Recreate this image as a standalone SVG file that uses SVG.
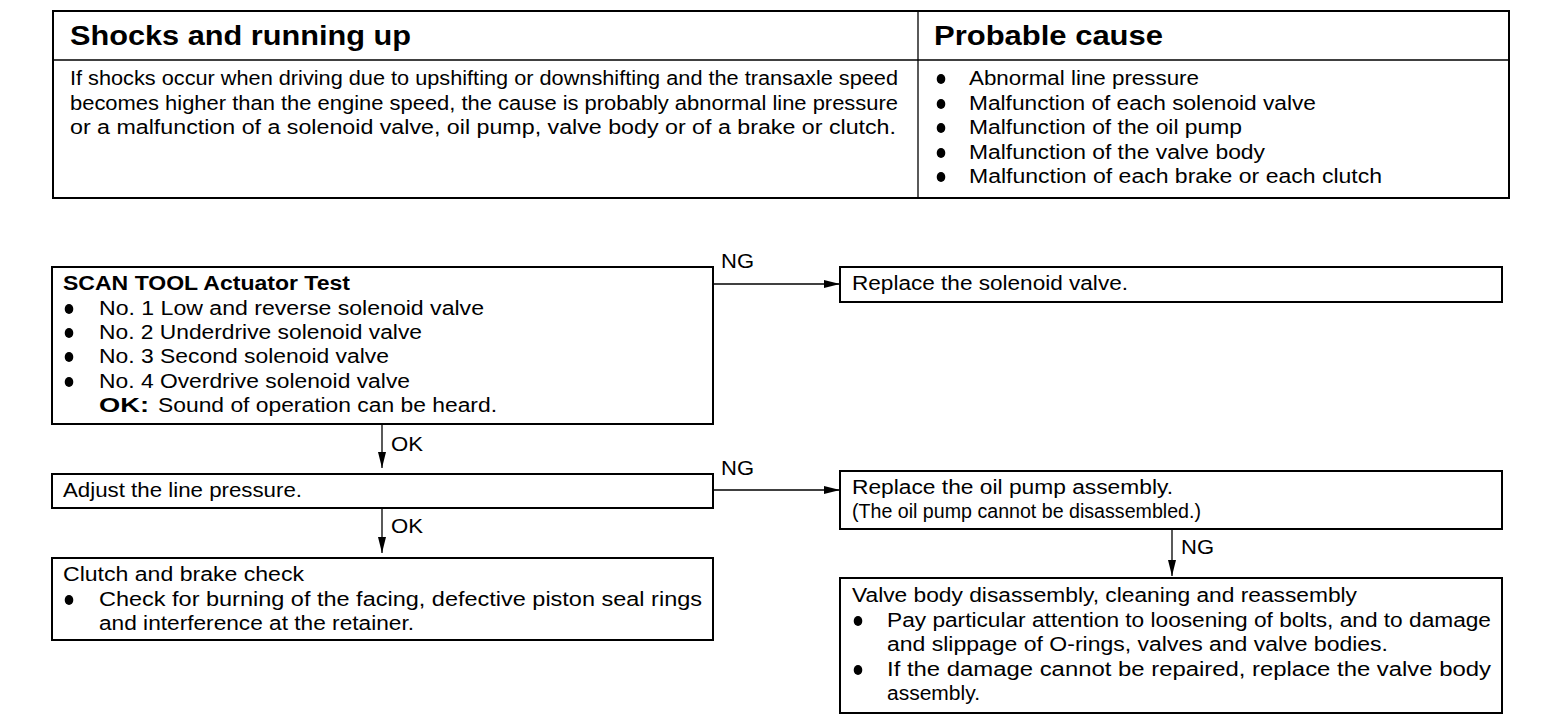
<svg xmlns="http://www.w3.org/2000/svg" width="1568" height="728" viewBox="0 0 1568 728">
<style>
text{font-family:"Liberation Sans",Arial,sans-serif;fill:#000}
.h{font-size:27px;font-weight:bold}
.t{font-size:19.5px}
.f{font-size:19.5px}
.b{font-weight:bold}
.box{fill:#fff;stroke:#000;stroke-width:2}
.ln{fill:none;stroke:#000;stroke-width:1.3}
.dot{fill:#000}
</style>
<defs>
<marker id="ah" viewBox="0 0 16 8" refX="16" refY="4" markerWidth="16" markerHeight="8" markerUnits="userSpaceOnUse" orient="auto">
<path d="M0,0 L16,4 L0,8 Z" fill="#000"/>
</marker>
</defs>
<rect width="1568" height="728" fill="#fff"/>

<g id="table">
<rect x="53" y="11" width="1456" height="187" fill="none" stroke="#000" stroke-width="2"/>
<line x1="53" y1="60" x2="1509" y2="60" stroke="#000" stroke-width="1.3"/>
<line x1="918" y1="11" x2="918" y2="198" stroke="#000" stroke-width="1.3"/>
<text class="h" x="70" y="45" textLength="341" lengthAdjust="spacingAndGlyphs">Shocks and running up</text>
<text class="h" x="934" y="45" textLength="229" lengthAdjust="spacingAndGlyphs">Probable cause</text>
<text class="t" x="70" y="85" textLength="828" lengthAdjust="spacingAndGlyphs">If shocks occur when driving due to upshifting or downshifting and the transaxle speed</text>
<text class="t" x="70" y="110" textLength="828" lengthAdjust="spacingAndGlyphs">becomes higher than the engine speed, the cause is probably abnormal line pressure</text>
<text class="t" x="70" y="134" textLength="826" lengthAdjust="spacingAndGlyphs">or a malfunction of a solenoid valve, oil pump, valve body or of a brake or clutch.</text>
<ellipse class="dot" cx="941" cy="79" rx="4.3" ry="5"/>
<ellipse class="dot" cx="941" cy="104" rx="4.3" ry="5"/>
<ellipse class="dot" cx="941" cy="128" rx="4.3" ry="5"/>
<ellipse class="dot" cx="941" cy="153" rx="4.3" ry="5"/>
<ellipse class="dot" cx="941" cy="177" rx="4.3" ry="5"/>
<text class="t" x="969" y="85" textLength="230" lengthAdjust="spacingAndGlyphs">Abnormal line pressure</text>
<text class="t" x="969" y="110" textLength="347" lengthAdjust="spacingAndGlyphs">Malfunction of each solenoid valve</text>
<text class="t" x="969" y="134" textLength="273" lengthAdjust="spacingAndGlyphs">Malfunction of the oil pump</text>
<text class="t" x="969" y="159" textLength="296" lengthAdjust="spacingAndGlyphs">Malfunction of the valve body</text>
<text class="t" x="969" y="183" textLength="413" lengthAdjust="spacingAndGlyphs">Malfunction of each brake or each clutch</text>
</g>

<g id="connectors">
<polyline class="ln" points="713,284 840,284" marker-end="url(#ah)"/>
<text class="f" x="721" y="268" textLength="33" lengthAdjust="spacingAndGlyphs">NG</text>
<polyline class="ln" points="382,424 382,468" marker-end="url(#ah)"/>
<text class="f" x="391" y="451" textLength="32" lengthAdjust="spacingAndGlyphs">OK</text>
<polyline class="ln" points="713,490 840,490" marker-end="url(#ah)"/>
<text class="f" x="721" y="475" textLength="33" lengthAdjust="spacingAndGlyphs">NG</text>
<polyline class="ln" points="382,508 382,553" marker-end="url(#ah)"/>
<text class="f" x="391" y="533" textLength="32" lengthAdjust="spacingAndGlyphs">OK</text>
<polyline class="ln" points="1172,529 1172,576" marker-end="url(#ah)"/>
<text class="f" x="1181" y="554" textLength="33" lengthAdjust="spacingAndGlyphs">NG</text>
</g>

<g id="scan-tool-test">
<rect class="box" x="52" y="267" width="661" height="157"/>
<text class="f b" x="63" y="290" textLength="287" lengthAdjust="spacingAndGlyphs">SCAN TOOL Actuator Test</text>
<ellipse class="dot" cx="69" cy="309" rx="4.3" ry="5"/>
<ellipse class="dot" cx="69" cy="333" rx="4.3" ry="5"/>
<ellipse class="dot" cx="69" cy="357" rx="4.3" ry="5"/>
<ellipse class="dot" cx="69" cy="382" rx="4.3" ry="5"/>
<text class="f" x="99" y="315" textLength="385" lengthAdjust="spacingAndGlyphs">No. 1 Low and reverse solenoid valve</text>
<text class="f" x="99" y="339" textLength="323" lengthAdjust="spacingAndGlyphs">No. 2 Underdrive solenoid valve</text>
<text class="f" x="99" y="363" textLength="290" lengthAdjust="spacingAndGlyphs">No. 3 Second solenoid valve</text>
<text class="f" x="99" y="388" textLength="311" lengthAdjust="spacingAndGlyphs">No. 4 Overdrive solenoid valve</text>
<text class="f b" x="99" y="412" textLength="50" lengthAdjust="spacingAndGlyphs">OK:</text>
<text class="f" x="158" y="412" textLength="339" lengthAdjust="spacingAndGlyphs">Sound of operation can be heard.</text>
</g>

<g id="replace-solenoid">
<rect class="box" x="840" y="267" width="662" height="35"/>
<text class="f" x="852" y="290" textLength="276" lengthAdjust="spacingAndGlyphs">Replace the solenoid valve.</text>
</g>

<g id="adjust-line-pressure">
<rect class="box" x="52" y="474" width="661" height="34"/>
<text class="f" x="63" y="497" textLength="239" lengthAdjust="spacingAndGlyphs">Adjust the line pressure.</text>
</g>

<g id="replace-oil-pump">
<rect class="box" x="840" y="471" width="662" height="58"/>
<text class="f" x="852" y="494" textLength="321" lengthAdjust="spacingAndGlyphs">Replace the oil pump assembly.</text>
<text class="f" x="852" y="518" textLength="349" lengthAdjust="spacingAndGlyphs">(The oil pump cannot be disassembled.)</text>
</g>

<g id="clutch-brake-check">
<rect class="box" x="52" y="558" width="661" height="82"/>
<text class="f" x="63" y="581" textLength="241" lengthAdjust="spacingAndGlyphs">Clutch and brake check</text>
<ellipse class="dot" cx="69" cy="600" rx="4.3" ry="5"/>
<text class="f" x="99" y="606" textLength="603" lengthAdjust="spacingAndGlyphs">Check for burning of the facing, defective piston seal rings</text>
<text class="f" x="99" y="630" textLength="315" lengthAdjust="spacingAndGlyphs">and interference at the retainer.</text>
</g>

<g id="valve-body">
<rect class="box" x="840" y="578" width="662" height="135"/>
<text class="f" x="852" y="602" textLength="505" lengthAdjust="spacingAndGlyphs">Valve body disassembly, cleaning and reassembly</text>
<ellipse class="dot" cx="858" cy="621" rx="4.3" ry="5"/>
<ellipse class="dot" cx="858" cy="670" rx="4.3" ry="5"/>
<text class="f" x="887" y="627" textLength="604" lengthAdjust="spacingAndGlyphs">Pay particular attention to loosening of bolts, and to damage</text>
<text class="f" x="887" y="651" textLength="501" lengthAdjust="spacingAndGlyphs">and slippage of O-rings, valves and valve bodies.</text>
<text class="f" x="887" y="676" textLength="604" lengthAdjust="spacingAndGlyphs">If the damage cannot be repaired, replace the valve body</text>
<text class="f" x="887" y="700" textLength="93" lengthAdjust="spacingAndGlyphs">assembly.</text>
</g>
</svg>
